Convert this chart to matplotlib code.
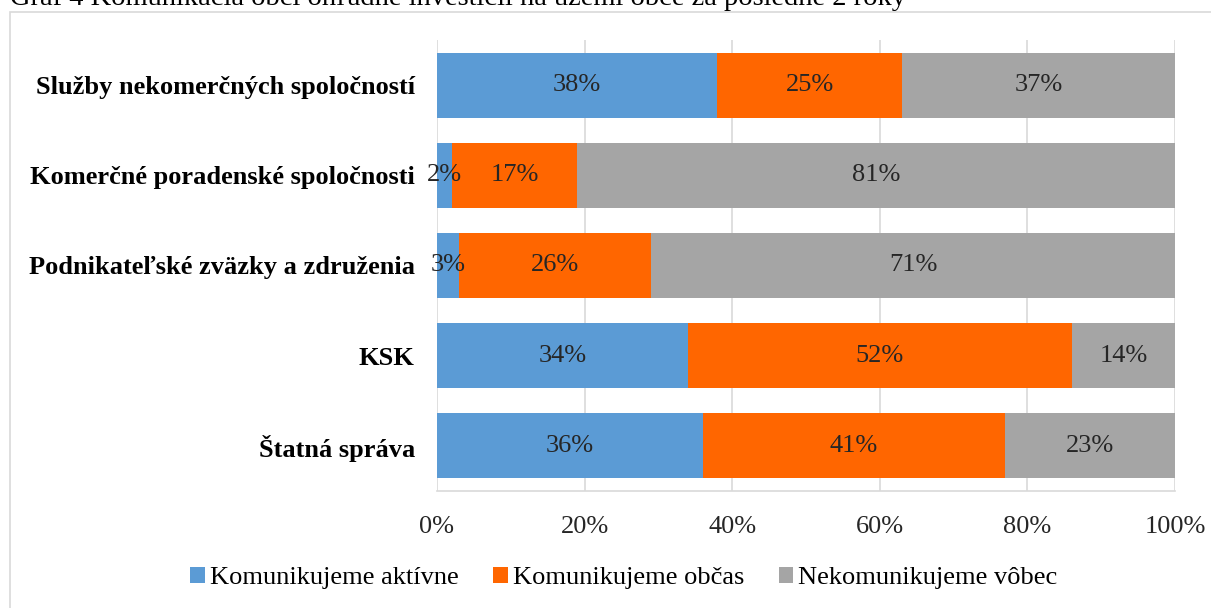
import matplotlib.pyplot as plt
from matplotlib.patches import Rectangle
from matplotlib.ticker import PercentFormatter

plt.rcParams['font.family'] = ['Liberation Serif', 'DejaVu Serif']

categories = [
    'Služby nekomerčných spoločností',
    'Komerčné poradenské spoločnosti',
    'Podnikateľské zväzky a združenia',
    'KSK',
    'Štatná správa',
]
aktivne = [38, 2, 3, 34, 36]
obcas = [25, 17, 26, 52, 41]
vobec = [37, 81, 71, 14, 23]

series_names = ['Komunikujeme aktívne', 'Komunikujeme občas', 'Nekomunikujeme vôbec']
colors = ['#5B9BD5', '#FF6600', '#A5A5A5']

W, H = 1211, 608
fig = plt.figure(figsize=(W / 100, H / 100), dpi=100)
ax = fig.add_axes([437 / W, 1 - 491 / H, (1175 - 437) / W, (491 - 40) / H])

# outer chart border (cut off at right and bottom)
fig.patches.append(Rectangle((10 / W, -0.05), 1.2, 1 - 12 / H + 0.05,
                             transform=fig.transFigure, fill=False,
                             edgecolor='#D9D9D9', linewidth=1.2))

fig.text(10 / W, 1 - 5 / H,
         'Graf 4 Komunikácia obcí ohľadne investícií na území obce za posledné 2 roky',
         fontsize=20.5, va='baseline', ha='left')

y = list(range(len(categories)))
left = [0] * len(categories)
for vals, name, c in zip([aktivne, obcas, vobec], series_names, colors):
    bars = ax.barh(y, vals, left=left, height=0.72, color=c, label=name, zorder=3)
    for b, v in zip(bars, vals):
        ax.text(b.get_x() + b.get_width() / 2, b.get_y() + b.get_height() / 2,
                f'{v}%', ha='center', va='center', fontsize=19, color='#262626', zorder=4)
    left = [l + v for l, v in zip(left, vals)]

ax.set_xlim(0, 100)
ax.set_ylim(len(categories) - 0.5, -0.5)
ax.set_yticks(y)
ax.set_yticklabels(categories, fontsize=19, fontweight='bold')
ax.set_xticks(range(0, 101, 20))
ax.xaxis.set_major_formatter(PercentFormatter(decimals=0))
ax.tick_params(axis='x', labelsize=19, length=0, pad=18, labelcolor='#262626')
ax.tick_params(axis='y', length=0, pad=16)
ax.grid(axis='x', color='#D9D9D9', linewidth=1.2, zorder=0)
for s in ['top', 'right']:
    ax.spines[s].set_visible(False)
ax.spines['left'].set_visible(False)
ax.spines['bottom'].set_color('#D9D9D9')
ax.spines['bottom'].set_linewidth(1.2)

fig.legend(loc='center', bbox_to_anchor=(624 / W, 1 - 578 / H), ncol=3,
           frameon=False, fontsize=19, handlelength=0.55, handleheight=0.55,
           handletextpad=0.2, columnspacing=1.3)

fig.savefig('out.png', dpi=100)
